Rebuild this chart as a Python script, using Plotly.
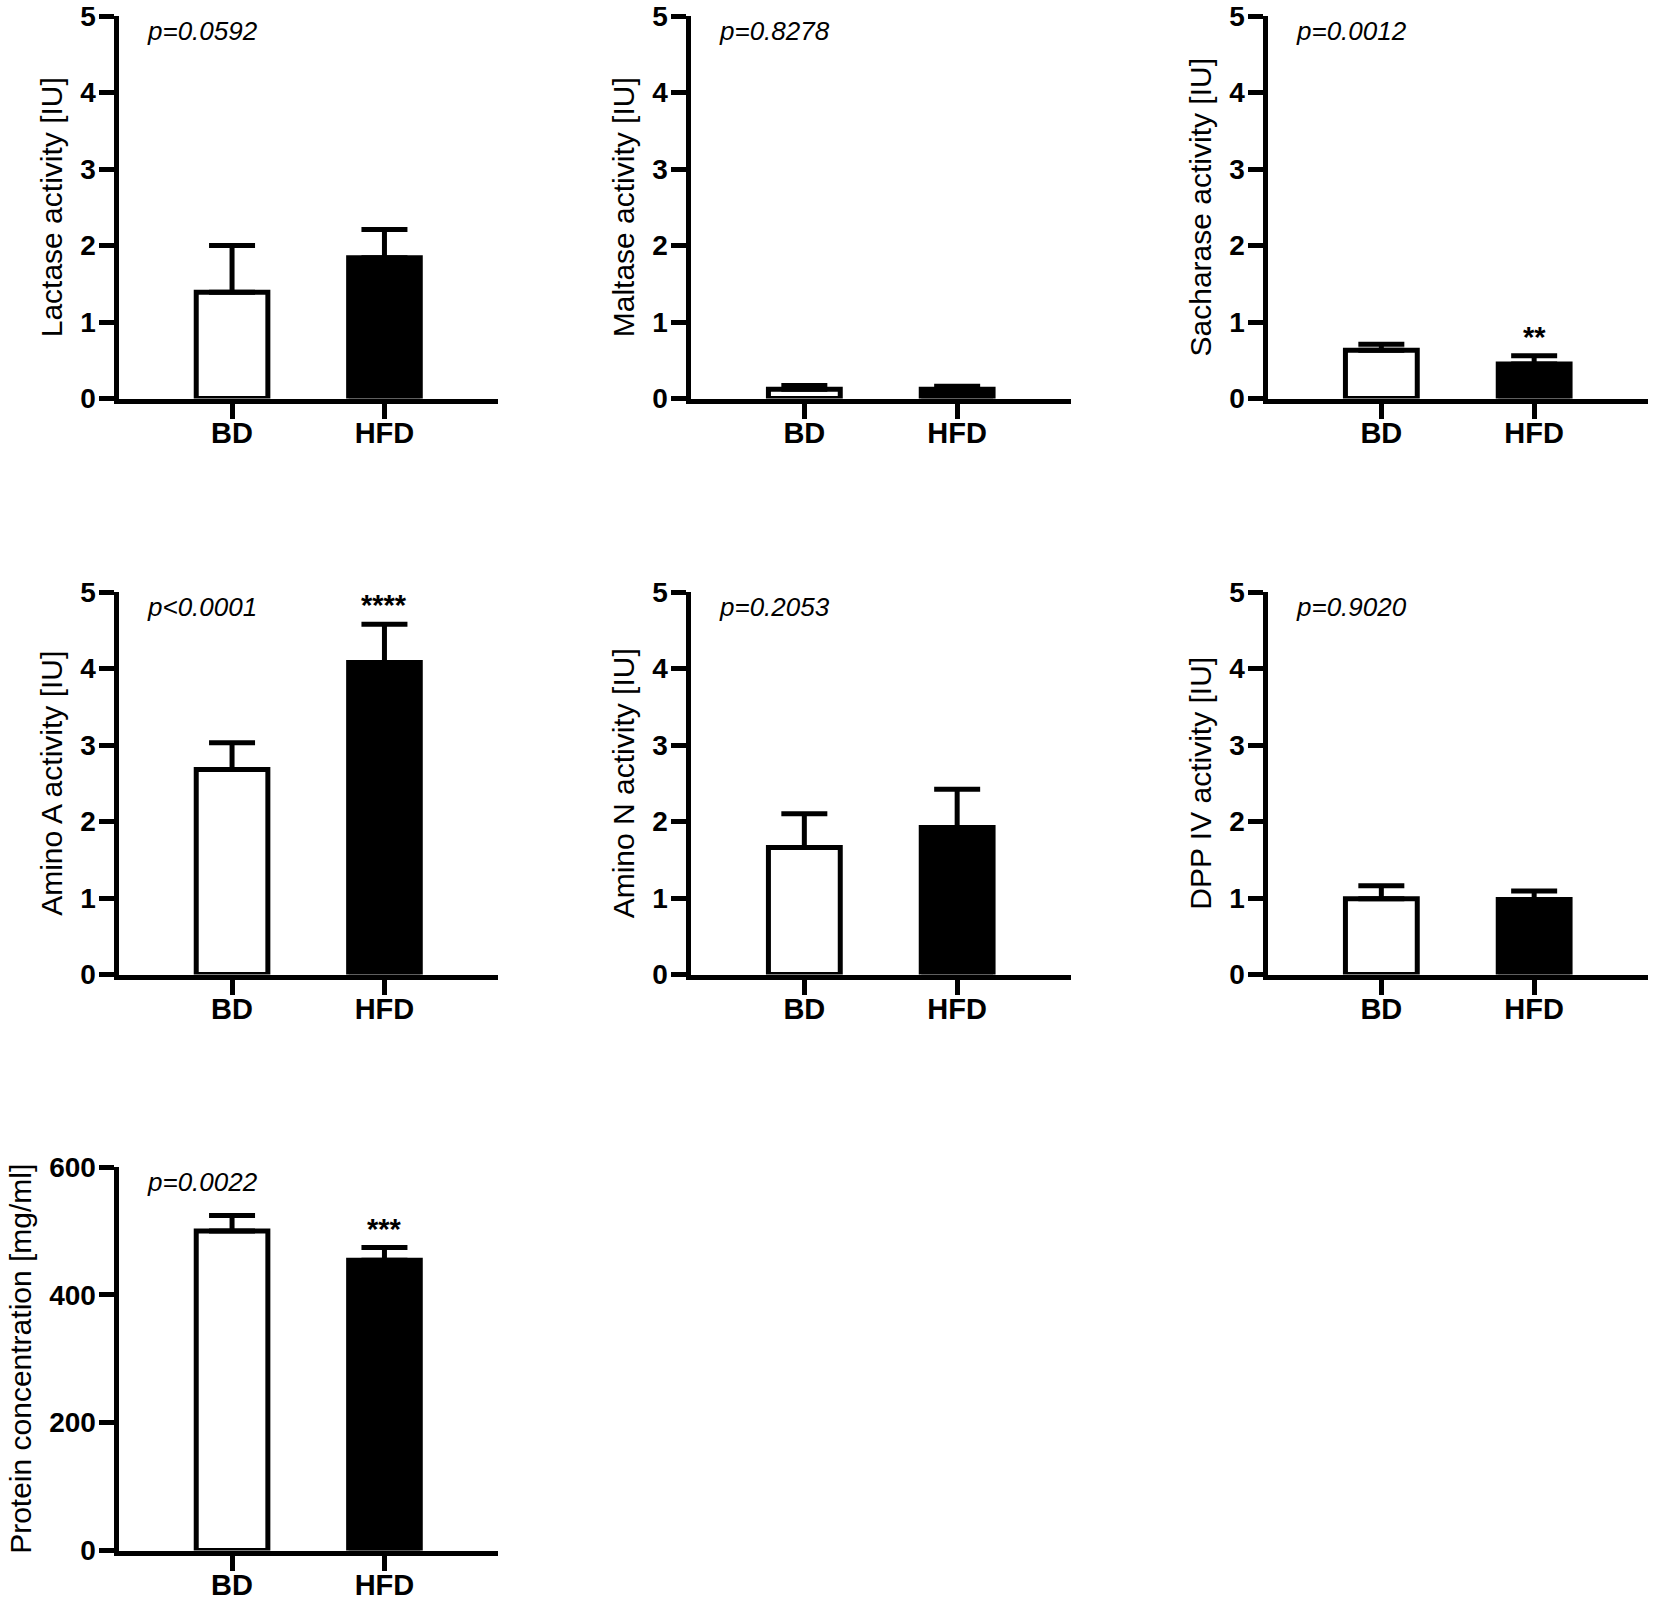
import plotly.graph_objects as go

FONT = 'Liberation Sans, Arial, sans-serif'

groups = ['BD', 'HFD']

lactase_mean = [1.39, 1.84]
lactase_sem = [0.61, 0.37]
maltase_mean = [0.12, 0.12]
maltase_sem = [0.05, 0.04]
sacharase_mean = [0.63, 0.45]
sacharase_sem = [0.08, 0.11]
amino_a_mean = [2.68, 4.08]
amino_a_sem = [0.35, 0.50]
amino_n_mean = [1.66, 1.92]
amino_n_sem = [0.44, 0.50]
dpp_mean = [0.99, 0.98]
dpp_sem = [0.17, 0.11]
protein_mean = [500, 454]
protein_sem = [24, 20]

titles = ['Lactase activity [IU]', 'Maltase activity [IU]', 'Sacharase activity [IU]',
          'Amino A activity [IU]', 'Amino N activity [IU]', 'DPP IV activity [IU]',
          'Protein concentration [mg/ml]']
pvals = ['p=0.0592', 'p=0.8278', 'p=0.0012', 'p<0.0001', 'p=0.2053', 'p=0.9020', 'p=0.0022']
stars = ['', '', '**', '****', '', '', '***']
means = [lactase_mean, maltase_mean, sacharase_mean, amino_a_mean, amino_n_mean, dpp_mean, protein_mean]
sems = [lactase_sem, maltase_sem, sacharase_sem, amino_a_sem, amino_n_sem, dpp_sem, protein_sem]

W, H = 1655, 1602
# panel placement in pixels: (left, right, top, bottom)
cols = [(118.5, 498), (690.5, 1071), (1267.5, 1648)]
rows = [(16, 398.5), (592, 974.5), (1167, 1550.5)]

fig = go.Figure()
layout = dict(width=W, height=H, paper_bgcolor='white', plot_bgcolor='white',
              margin=dict(l=0, r=0, t=0, b=0), showlegend=False,
              font=dict(family=FONT, color='black'))
annotations = []

for i in range(7):
    n = i + 1
    sfx = '' if n == 1 else str(n)
    r, c = divmod(i, 3)
    left, right = cols[c]
    top, bottom = rows[r]

    fig.add_trace(go.Bar(
        x=groups, y=means[i],
        xaxis='x' + sfx, yaxis='y' + sfx,
        width=0.47,
        marker=dict(color=['white', 'black'], line=dict(color='black', width=5)),
        error_y=dict(type='data', symmetric=False, array=sems[i], arrayminus=[0, 0],
                     color='black', thickness=5, width=23),
    ))

    if n == 7:
        yrange = [0, 600]
        tickvals = [0, 200, 400, 600]
    else:
        yrange = [0, 5]
        tickvals = [0, 1, 2, 3, 4, 5]

    layout['xaxis' + sfx] = dict(
        domain=[left / W, right / W], anchor='y' + sfx,
        type='category', range=[-0.745, 1.745], automargin=False,
        showline=True, linewidth=5, linecolor='black',
        ticks='outside', ticklen=15, tickwidth=5, tickcolor='black',
        ticklabelstandoff=-10,
        showgrid=False, zeroline=False, fixedrange=True,
        tickfont=dict(family=FONT, size=29, color='black', weight='bold'),
    )
    layout['yaxis' + sfx] = dict(
        domain=[1 - bottom / H, 1 - top / H], anchor='x' + sfx,
        range=yrange, tickvals=tickvals, automargin=False,
        showline=True, linewidth=5, linecolor='black',
        ticks='outside', ticklen=15, tickwidth=5, tickcolor='black',
        ticklabelstandoff=-3,
        showgrid=False, zeroline=False, fixedrange=True,
        tickfont=dict(family=FONT, size=28, color='black', weight='bold'),
        title=dict(text=titles[i], standoff=10, font=dict(family=FONT, size=30, color='black')),
    )

    annotations.append(dict(
        text='<i>' + pvals[i] + '</i>', showarrow=False,
        xref='x' + sfx + ' domain', yref='y' + sfx + ' domain',
        x=0.07, y=0.96, xanchor='left', yanchor='middle',
        font=dict(family=FONT, size=26, color='black'),
    ))
    if stars[i]:
        annotations.append(dict(
            text='<b>' + stars[i] + '</b>', showarrow=False,
            xref='x' + sfx, yref='y' + sfx,
            x='HFD', y=means[i][1] + sems[i][1], yanchor='middle', yshift=19,
            font=dict(family=FONT, size=29, color='black'),
        ))

layout['annotations'] = annotations
fig.update_layout(**layout)

fig.write_html('out.html', config={'displayModeBar': False},
               post_script="document.body.style.margin='0';document.body.style.overflow='hidden';")
